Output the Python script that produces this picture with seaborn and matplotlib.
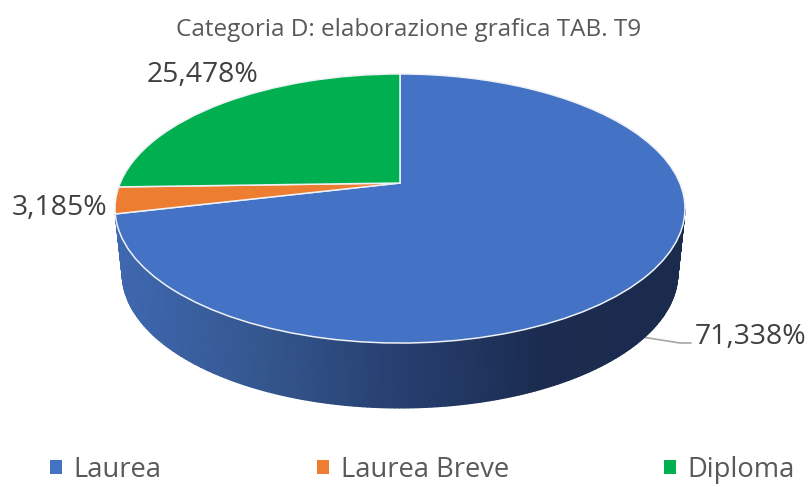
import numpy as np
import matplotlib
matplotlib.use('Agg')
import matplotlib.pyplot as plt
from matplotlib.colors import LinearSegmentedColormap
from matplotlib.transforms import Transform
import seaborn as sns

title = 'Categoria D: elaborazione grafica TAB. T9'
categories = ['Laurea', 'Laurea Breve', 'Diploma']
values = [71.338, 3.185, 25.478]
colors = ['#4472C4', '#ED7D31', '#00B050']
wall_colors = ['#3F68B0', '#34578F', '#273F70', '#1B2C50', '#1A2B4E']


def project(x, y, scale=1.0, drop=0.0):
    # tilted disc: the far side shrinks, so the centre sits above the ellipse middle
    w = 1 + 0.1896 * y
    return 400 + scale * 279.8 * x / w, 183 + drop - 129.7 * y / w


class Tilt(Transform):
    input_dims = 2
    output_dims = 2
    is_separable = False
    has_inverse = False

    def transform_non_affine(self, values):
        values = np.asarray(values)
        px, py = project(values[:, 0], values[:, 1])
        return np.column_stack([px, py])


sns.set_theme(style='white')
plt.rcParams['font.family'] = ['Open Sans', 'DejaVu Sans']

fig = plt.figure(figsize=(8.1, 4.87), dpi=100)
ax = fig.add_axes([0, 0, 1, 1])

wedges, _ = ax.pie(values, colors=colors, startangle=90, counterclock=False,
                   wedgeprops={'edgecolor': '#EEF1F5', 'linewidth': 1.1})
tilt = Tilt()
for wedge in wedges:
    wedge.set_transform(tilt + ax.transData)
    wedge.set_zorder(3)

# side wall of the first slice, only its front part shows
end_angle = values[0] / sum(values) * 360
theta = np.radians(np.linspace(101, end_angle, 200))
top_x, top_y = project(np.sin(theta), np.cos(theta))
low_x, low_y = project(np.sin(theta), np.cos(theta), scale=0.975, drop=65)
wall_x = np.vstack([top_x, low_x])
wall_y = np.vstack([top_y, low_y])
cmap = LinearSegmentedColormap.from_list('wall', wall_colors)
ax.pcolormesh(wall_x, wall_y, 1 - (wall_x - 120) / 560, cmap=cmap.reversed(),
              shading='gouraud', vmin=0, vmax=1, zorder=2)

ax.plot([642, 680, 691], [337, 343, 343], color='#A6A6A6', lw=1.2, zorder=1)

ax.set_aspect('auto')
ax.set_xlim(0, 810)
ax.set_ylim(487, 0)

ax.text(409, 30, title, ha='center', va='center', fontsize=17.5, color='#595959')

label_text = [f'{v:.3f}%'.replace('.', ',') for v in values]
label_pos = [(751, 337), (60, 208), (202, 75)]
for text, (lx, ly) in zip(label_text, label_pos):
    ax.text(lx, ly, text, ha='center', va='center', fontsize=20.4, color='#404040')

leg = ax.legend(wedges, categories, loc='lower center', bbox_to_anchor=(0.5216, -0.044),
                ncols=3, frameon=False, fontsize=19.7, handlelength=0.44, handleheight=0.44,
                handletextpad=0.44, columnspacing=5.66, labelcolor='#595959')
for handle in leg.legend_handles:
    handle.set_edgecolor('none')

fig.savefig('out.png', dpi=100)
